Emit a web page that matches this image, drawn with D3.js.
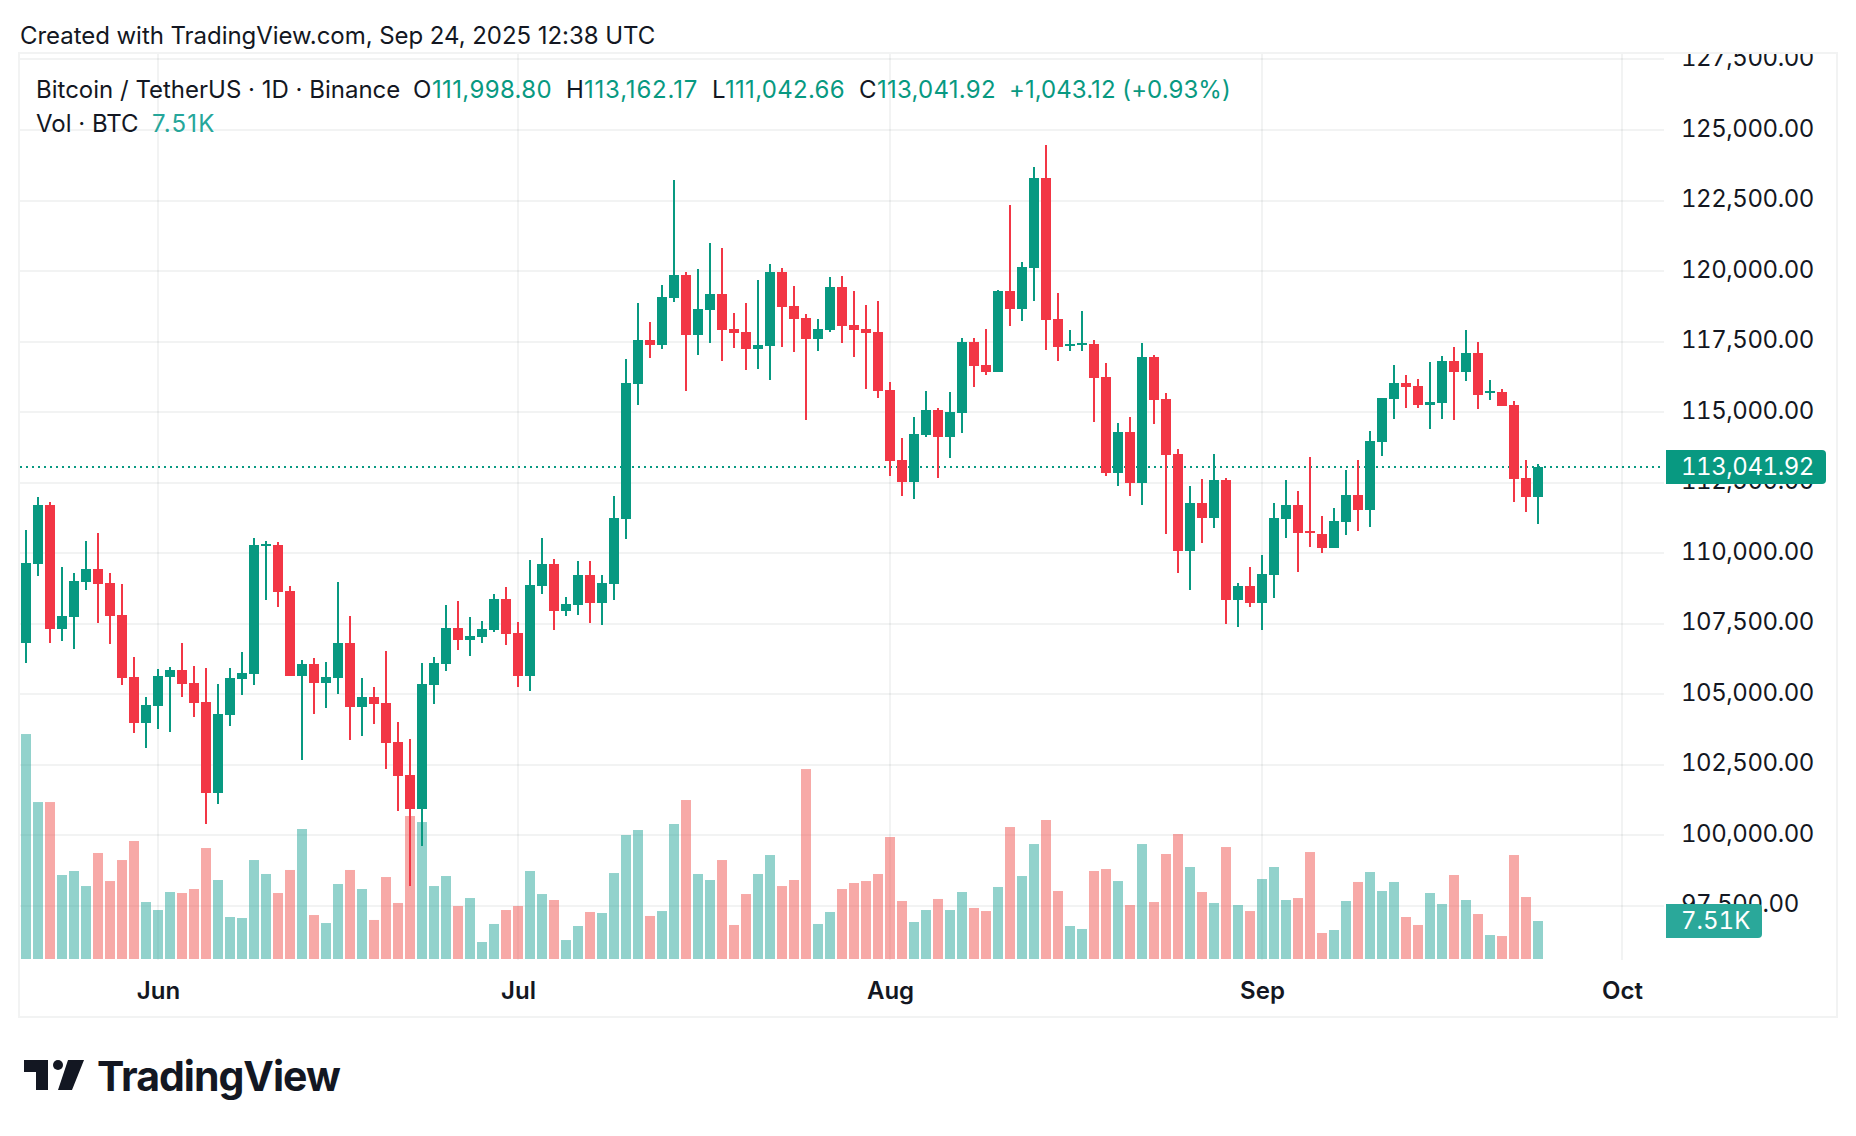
<!DOCTYPE html>
<html>
<head>
<meta charset="utf-8">
<title>BTCUSDT</title>
<script src="https://cdn.jsdelivr.net/npm/d3@7"></script>
<style>
html, body {margin: 0; padding: 0; background: #ffffff;}
svg {display: block;}
text {font-family: Inter, sans-serif; fill: #131722;}
.tabular {font-variant-numeric: tabular-nums; font-feature-settings: "tnum" 1;}
</style>
</head>
<body>
<div id="chart"></div>
<script>
var opens = [106800,109600,111690,107290,107720,108960,109420,108930,107790,105590,103960,104560,105590,105840,105380,104710,101480,104250,105520,105700,110240,110270,108640,105630,106050,105380,105560,106800,104530,104880,104670,103290,102120,100910,105310,106050,107330,106910,107010,107260,108360,107150,105630,108820,109600,107930,108150,109210,108220,108890,111200,115980,117540,117370,119030,119850,117720,118610,119170,117930,117830,117220,117330,119950,118750,118320,117580,117900,119420,118070,117930,117830,115770,113290,112510,114170,115060,114100,114950,117470,116660,116410,119280,118640,120100,123290,118290,117330,117370,117400,116230,112830,114280,112470,116940,115450,113500,110060,111760,111230,112580,108320,108820,108220,109210,111200,111690,110770,110660,110170,111090,112050,111520,113930,115450,116020,115910,115240,115310,116800,116410,117080,115660,115700,115240,112650,111998.80];
var highs = [110810,111980,111800,109490,109280,110420,110700,109280,108890,106300,104880,105880,105950,106800,105980,105910,105340,105910,106480,110520,110420,110380,108820,106200,106270,106120,108960,107760,105560,105240,106510,104000,103390,106090,106300,108150,108290,107720,107580,108540,108780,107540,109740,110520,109780,108430,109710,109710,109210,112010,116870,118860,118180,119490,123220,119950,120060,120980,120810,118500,118860,119670,120240,120100,119460,118470,118290,119780,119810,119280,118780,118930,116050,114070,114810,115730,115130,115700,117610,117610,117930,119320,122330,120310,123680,124460,119210,117900,118570,117540,116730,114600,114810,117440,117010,115660,113680,112370,112610,113500,112650,108930,109490,109920,111760,112580,112190,113390,111300,111590,112930,113290,114320,115490,116660,116300,116160,116760,116980,117300,117900,117470,116120,115810,115380,113290,113162.17];
var lows = [106090,109170,106800,106870,106590,108680,107510,106760,105310,103610,103080,103750,103640,104880,104170,100380,101090,103860,104950,105310,108320,108080,105630,102650,104280,104490,104990,103360,103500,103930,102330,100840,98180,99600,104640,105810,106550,106340,106800,107190,106730,105240,105100,108540,107260,107760,107790,107510,107440,108320,110490,115240,116900,117220,118890,115730,117010,117440,116800,117260,116480,116510,116120,117290,117120,114710,117150,117830,117440,116940,115810,115490,112720,112010,111900,114100,112650,113360,114250,115880,116300,116410,118040,118220,118930,117190,116800,117150,117150,114640,112720,112370,112010,111690,114560,110660,109280,108680,110340,110880,107470,107370,108080,107260,108390,110520,109320,110200,109990,110170,110630,110770,110910,113430,114740,115130,115130,114390,114740,114710,116090,115100,115420,115200,111800,111440,111042.66];
var closes = [109640,111690,107290,107760,109000,109420,108890,107760,105560,103960,104600,105630,105840,105340,104670,101480,104280,105560,105730,110270,110310,108610,105630,106050,105380,105590,106800,104530,104880,104640,103250,102080,100910,105340,106090,107330,106910,107050,107300,108360,107120,105630,108860,109600,107930,108180,109210,108220,108930,111230,116020,117540,117370,119070,119850,117720,118640,119170,117900,117790,117220,117370,119950,118710,118290,117580,117930,119420,118040,117900,117790,115730,113250,112510,114210,115060,114100,114990,117470,116620,116410,119280,118640,120130,123290,118250,117290,117400,117440,116200,112830,114280,112470,116940,115420,113460,110060,111760,111230,112580,108320,108820,108220,109250,111230,111690,110700,110700,110170,111130,112050,111520,113960,115490,116020,115880,115240,115340,116800,116410,117080,115590,115730,115200,112610,111980,113041.92];
// volume in thousands of BTC
var volumes = [44.46,31.02,31.02,16.6,17.39,14.42,20.95,15.41,19.56,23.32,11.26,9.68,13.24,13.04,13.83,21.93,15.61,8.3,8.1,19.56,16.8,13.04,17.59,25.69,8.69,7.11,14.82,17.59,13.83,7.71,16.2,11.07,28.26,27.07,14.42,16.4,10.47,12.05,3.36,6.92,9.68,10.47,17.39,12.84,11.66,3.75,6.52,9.29,9.09,16.99,24.5,25.49,8.5,9.48,26.68,31.42,16.8,15.61,19.56,6.72,12.84,16.8,20.55,14.42,15.61,37.54,6.92,9.29,13.83,15.02,15.41,16.8,24.11,11.46,7.31,9.68,11.86,9.68,13.24,10.08,9.48,14.23,26.08,16.4,22.72,27.47,13.44,6.52,5.93,17.39,17.78,15.41,10.67,22.72,11.26,20.75,24.7,18.18,13.24,11.07,22.13,10.67,9.48,15.81,18.18,11.66,12.05,21.14,5.14,5.73,11.46,15.22,17.19,13.44,15.22,8.3,6.72,13.04,10.87,16.6,11.66,8.89,4.74,4.54,20.55,12.25,7.51];
var priceTicks = [97500,100000,102500,105000,107500,110000,112500,115000,117500,120000,122500,125000,127500];
var monthTicks = ["2025-06-01","2025-07-01","2025-08-01","2025-09-01","2025-10-01"];
var firstDay = "2025-05-21";

var upColor = "#089981";
var downColor = "#f23645";
var volUpColor = "#26a69a";
var volDownColor = "#ef5350";
var gridColor = "rgba(42,46,57,0.06)";

var width = 1856;
var height = 1136;
var frame = {left: 20, right: 1836, top: 54, bottom: 1016};
var plotRight = 1664;
var plotBottom = 960;

var svg = d3.select("#chart").append("svg")
            .attr("width", width)
            .attr("height", height);

var parseDay = d3.utcParse("%Y-%m-%d");
var days = opens.map(function(d, i) {return d3.utcDay.offset(parseDay(firstDay), i);});
var monthDates = monthTicks.map(parseDay);

var xScale = d3.scaleUtc()
               .domain([parseDay(firstDay), parseDay("2025-10-01")])
               .range([26, 1622]);

var yScale = d3.scaleLinear()
               .domain([100000, 125000])
               .range([835, 130]);

var volScale = d3.scaleLinear()
                 .domain([0, 50])
                 .range([959, 706]);

svg.append("clipPath").attr("id", "frameClip")
   .append("rect")
   .attr("x", frame.left)
   .attr("y", frame.top)
   .attr("width", frame.right - frame.left)
   .attr("height", frame.bottom - frame.top);

//Created with line
svg.append("text")
   .attr("x", 20)
   .attr("y", 44)
   .attr("font-size", 24)
   .attr("letter-spacing", -0.05)
   .text("Created with TradingView.com, Sep 24, 2025 12:38 UTC");

//Frame
svg.append("rect")
   .attr("x", frame.left - 1)
   .attr("y", frame.top - 1)
   .attr("width", frame.right - frame.left + 2)
   .attr("height", frame.bottom - frame.top + 2)
   .attr("fill", "none")
   .attr("stroke", gridColor)
   .attr("stroke-width", 2);

//Grid
svg.append("g").selectAll("line")
   .data(priceTicks)
   .enter().append("line")
   .attr("x1", frame.left)
   .attr("x2", plotRight)
   .attr("y1", function(d) {return Math.round(yScale(d));})
   .attr("y2", function(d) {return Math.round(yScale(d));})
   .attr("stroke", gridColor)
   .attr("stroke-width", 2);

svg.append("g").selectAll("line")
   .data(monthDates)
   .enter().append("line")
   .attr("x1", function(d) {return xScale(d);})
   .attr("x2", function(d) {return xScale(d);})
   .attr("y1", frame.top)
   .attr("y2", plotBottom)
   .attr("stroke", gridColor)
   .attr("stroke-width", 2);

//Volume
svg.append("g").selectAll("rect")
   .data(volumes)
   .enter().append("rect")
   .attr("x", function(d, i) {return xScale(days[i]) - 5;})
   .attr("width", 10)
   .attr("y", function(d) {return volScale(d);})
   .attr("height", function(d) {return volScale(0) - volScale(d);})
   .attr("fill", function(d, i) {return closes[i] >= opens[i] ? volUpColor : volDownColor;})
   .attr("fill-opacity", 0.5);

//Last price line
svg.append("line")
   .attr("x1", frame.left)
   .attr("x2", plotRight - 2)
   .attr("y1", Math.round(yScale(closes[closes.length - 1])))
   .attr("y2", Math.round(yScale(closes[closes.length - 1])))
   .attr("stroke", upColor)
   .attr("stroke-width", 2)
   .attr("stroke-dasharray", "2 4");

//Candles
var candles = svg.append("g").attr("shape-rendering", "crispEdges")
                 .selectAll("g")
                 .data(opens)
                 .enter().append("g")
                 .attr("fill", function(d, i) {return closes[i] >= d ? upColor : downColor;});

candles.append("rect")
       .attr("x", function(d, i) {return xScale(days[i]) - 1;})
       .attr("width", 2)
       .attr("y", function(d, i) {return yScale(highs[i]);})
       .attr("height", function(d, i) {return yScale(lows[i]) - yScale(highs[i]);});

candles.append("rect")
       .attr("x", function(d, i) {return xScale(days[i]) - 5;})
       .attr("width", 10)
       .attr("y", function(d, i) {return yScale(Math.max(d, closes[i]));})
       .attr("height", function(d, i) {return Math.max(2, Math.abs(yScale(d) - yScale(closes[i])));});

//Price axis
var priceAxis = d3.axisRight(yScale)
                  .tickValues(priceTicks)
                  .tickSize(0)
                  .tickPadding(17)
                  .tickFormat(d3.format(",.2f"));

var priceGroup = svg.append("g").attr("clip-path", "url(#frameClip)")
                    .append("g")
                    .attr("transform", "translate(" + plotRight + ",-1.5)")
                    .call(priceAxis);
priceGroup.select(".domain").remove();
priceGroup.selectAll("text")
          .attr("class", "tabular")
          .attr("font-size", 24)
          .attr("letter-spacing", -0.45)
          .attr("font-family", "Inter, sans-serif")
          .attr("fill", "#131722");

//Time axis
var timeAxis = d3.axisBottom(xScale)
                 .tickValues(monthDates)
                 .tickSize(0)
                 .tickPadding(22)
                 .tickFormat(d3.utcFormat("%b"));

var timeGroup = svg.append("g")
                   .attr("transform", "translate(0," + plotBottom + ")")
                   .call(timeAxis);
timeGroup.select(".domain").remove();
timeGroup.selectAll("text").attr("font-size", 24).attr("font-weight", 600).attr("font-family", "Inter, sans-serif").attr("fill", "#131722");

//Last value badges
function badge(x1, x2, yMid, color, label, spacing) {
    var h = 17;
    var r = 4;
    svg.append("path")
       .attr("d", "M" + x1 + "," + (yMid - h) + "H" + (x2 - r) + "Q" + x2 + "," + (yMid - h) + " " + x2 + "," + (yMid - h + r) +
                  "V" + (yMid + h - r) + "Q" + x2 + "," + (yMid + h) + " " + (x2 - r) + "," + (yMid + h) + "H" + x1 + "Z")
       .attr("fill", color);
    svg.append("text")
       .attr("class", "tabular")
       .attr("x", x1 + 15)
       .attr("y", yMid)
       .attr("dy", "0.35em")
       .attr("font-size", 24)
       .attr("letter-spacing", spacing)
       .style("fill", "#ffffff")
       .text(label);
}

badge(1666, 1826, 467, upColor, d3.format(",.2f")(closes[closes.length - 1]), -0.45);
badge(1666, 1762, 921, "#2aa89a", volumes[volumes.length - 1] + "K", 0);

//Legend
var legendRows = [
    {x: 36, y: 98, color: "#131722", spacing: 0, text: "Bitcoin / TetherUS · 1D · Binance"},
    {x: 413, y: 98, color: "#131722", spacing: 0, text: "O"},
    {x: 432, y: 98, color: upColor, spacing: 0.35, text: "111,998.80"},
    {x: 566, y: 98, color: "#131722", spacing: 0, text: "H"},
    {x: 584, y: 98, color: upColor, spacing: 0.8, text: "113,162.17"},
    {x: 712, y: 98, color: "#131722", spacing: 0, text: "L"},
    {x: 725, y: 98, color: upColor, spacing: 0.3, text: "111,042.66"},
    {x: 859, y: 98, color: "#131722", spacing: 0, text: "C"},
    {x: 877, y: 98, color: upColor, spacing: 0.25, text: "113,041.92"},
    {x: 1009, y: 98, color: upColor, spacing: 0.05, text: "+1,043.12 (+0.93%)"},
    {x: 36, y: 132, color: "#131722", spacing: 0, text: "Vol · BTC"},
    {x: 152, y: 132, color: volUpColor, spacing: 1.2, text: "7.51K"}
];

svg.append("g").selectAll("text")
   .data(legendRows)
   .enter().append("text")
   .attr("x", function(d) {return d.x;})
   .attr("y", function(d) {return d.y;})
   .attr("font-size", 24)
   .attr("letter-spacing", function(d) {return d.spacing;})
   .style("fill", function(d) {return d.color;})
   .text(function(d) {return d.text;});

//Logo
var logo = svg.append("g").attr("fill", "#131722");
logo.append("path").attr("d", "M24,1060H48V1090H36V1072H24Z");
logo.append("circle").attr("cx", 58).attr("cy", 1065).attr("r", 5);
logo.append("path").attr("d", "M68,1060H84L72,1090H58Z");
svg.append("text")
   .attr("x", 97)
   .attr("y", 1091)
   .attr("font-size", 41)
   .attr("font-weight", 700)
   .attr("letter-spacing", -1)
   .text("TradingView");
</script>
</body>
</html>
